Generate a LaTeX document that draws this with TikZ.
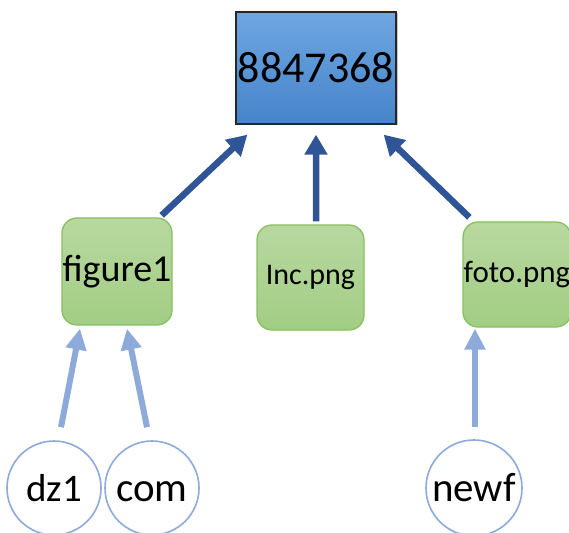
\documentclass[tikz,border=0pt]{standalone}
\usepackage{fontspec}
\setmainfont{Carlito}
\usetikzlibrary{arrows.meta,calc,shadows}
\definecolor{topA}{RGB}{110,166,225}
\definecolor{topB}{RGB}{70,132,202}
\definecolor{grnA}{RGB}{184,216,160}
\definecolor{grnB}{RGB}{162,205,132}
\definecolor{grnE}{RGB}{135,192,98}
\definecolor{lblue}{RGB}{142,170,219}
\definecolor{dblue}{RGB}{47,85,151}
\tikzset{
  topbox/.style={draw=black!85, line width=1.3bp, top color=topA, bottom color=topB,
    minimum width=160bp, minimum height=112bp, inner sep=0pt,
    drop shadow={shadow xshift=1.5bp, shadow yshift=-1.5bp, opacity=0.45},
    font=\fontsize{44bp}{48bp}\selectfont},
  gbox/.style={draw=grnE, line width=1.3bp, top color=grnA, bottom color=grnB,
    rounded corners=15bp, inner sep=0pt},
  circ/.style={circle, draw=lblue, line width=1.6bp, fill=white, minimum size=94bp, inner sep=0pt,
    text height=26bp, text depth=0bp,
    font=\fontsize{39bp}{42bp}\selectfont},
  darr/.style={draw=dblue, line width=6.5bp, -{Triangle[width=22bp,length=20bp]}},
  larr/.style={draw=lblue, line width=6bp, -{Triangle[width=20bp,length=21bp]}},
}
\begin{document}
\begin{tikzpicture}[x=1bp,y=-1bp]
\useasboundingbox (0,0) rectangle (569,533);
\clip (0,0) rectangle (569,533);
\node[topbox] (top) at (316,68) {8847368};
\node[gbox, minimum width=110bp, minimum height=107bp, font=\fontsize{38bp}{40bp}\selectfont] (fig) at (117,271.5) {figure1};
\node[gbox, minimum width=107bp, minimum height=105bp, font=\fontsize{30bp}{32bp}\selectfont] (inc) at (310.5,277.5) {Inc.png};
\node[gbox, minimum width=108bp, minimum height=105bp, font=\fontsize{31bp}{33bp}\selectfont] (foto) at (517,274.5) {foto.png};
\node[circ] (dz) at (54,488) {dz1};
\node[circ, font=\fontsize{41bp}{44bp}\selectfont] (com) at (152,488) {com};
\node[circ, minimum size=96bp, font=\fontsize{41bp}{44bp}\selectfont] (newf) at (474,488) {newf};
\draw[darr] ($(fig.north east)+(-11,-2)$) -- ($(top.south west)+(12,10)$);
\draw[darr] ($(inc.north)+(5.5,-3)$) -- ($(top.south)+(0,10)$);
\draw[darr] ($(foto.north west)+(7,-4)$) -- ($(top.south east)+(-13,10)$);
\draw[larr] ($(dz.north)+(7,-13)$) -- ($(fig.south)+(-37,3)$);
\draw[larr] ($(com.north)+(-5,-13)$) -- ($(fig.south)+(10,3)$);
\draw[larr] ($(newf.north)+(1,-12)$) -- ($(foto.south)+(-42,1)$);
\end{tikzpicture}
\end{document}
